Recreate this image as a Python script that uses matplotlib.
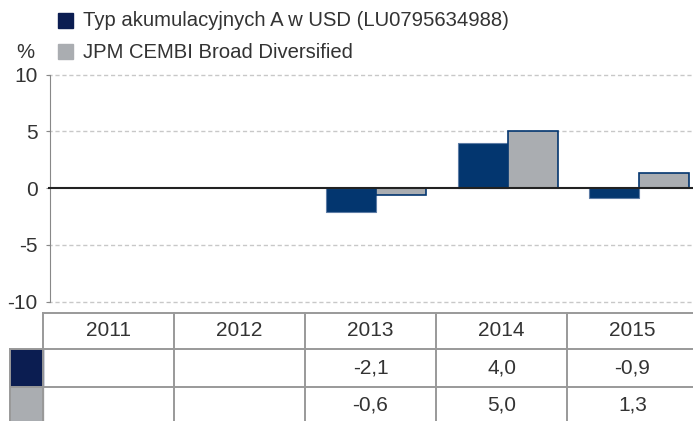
import numpy as np
import matplotlib
matplotlib.use('Agg')
import matplotlib.pyplot as plt
from matplotlib.lines import Line2D
from matplotlib.patches import Rectangle

plt.rcParams['font.family'] = ['Liberation Sans', 'DejaVu Sans']

# Data
years = ['2011', '2012', '2013', '2014', '2015']
fund = [np.nan, np.nan, -2.1, 4.0, -0.9]
bench = [np.nan, np.nan, -0.6, 5.0, 1.3]
fund_name = 'Typ akumulacyjnych A w USD (LU0795634988)'
bench_name = 'JPM CEMBI Broad Diversified'
yticks = [-10, -5, 0, 5, 10]

navy = '#03366f'
navy_dark = '#0b1d51'
grey = '#aaadb1'
text_c = '#333333'
line_c = '#999999'

W, H = 693, 421
fig = plt.figure(figsize=(W / 100, H / 100), dpi=100)


def fx(px):
    return px / W


def fy(py):
    return 1 - py / H


# Main bar axes
y_top, y_bot = 74.7, 301.7
pad = 0.3
ppu = (y_bot - y_top) / 20
ax = fig.add_axes([fx(47.5), fy(y_bot + pad * ppu), fx(693) - fx(47.5),
                   (y_bot - y_top + 2 * pad * ppu) / H])
x = np.arange(len(years))
bw = 0.38
ax.bar(x - bw / 2, fund, bw, color=navy, edgecolor='#5d7ca5', linewidth=0.8, zorder=3)
ax.bar(x + bw / 2, bench, bw, color=grey, edgecolor=navy, linewidth=1.2, zorder=3)
ax.set_xlim(-0.5, (693 - 113) / 131.5)
ax.set_ylim(-10 - pad, 10 + pad)
for v in yticks:
    if v != 0:
        ax.axhline(v, color='#c8c8c8', ls=(0, (3, 2)), lw=1, zorder=1)
ax.axhline(0, color='#222222', lw=1.5, zorder=4)
ax.set_yticks(yticks)
ax.set_yticklabels([str(v) for v in yticks])
ax.set_xticks([])
for s in ['top', 'right', 'bottom']:
    ax.spines[s].set_visible(False)
ax.spines['left'].set_bounds(-10, 10)
ax.spines['left'].set_color('#888888')
ax.spines['left'].set_position(('axes', 0.004))
ax.tick_params(axis='y', length=3, color='#888888', pad=6,
               labelsize=15, labelcolor=text_c)

# Overlay for legend and table (pixel coordinates)
ov = fig.add_axes([0, 0, 1, 1], facecolor='none')
ov.set_xlim(0, W)
ov.set_ylim(H, 0)
ov.axis('off')

# Legend
ov.add_patch(Rectangle((58, 13), 15, 15, color=navy_dark))
ov.add_patch(Rectangle((58, 44), 15, 15, color=grey))
ov.text(83, 21, fund_name, fontsize=14.6, color=text_c, va='center')
ov.text(83, 52, bench_name, fontsize=14.6, color=text_c, va='center')
ov.text(16, 52, '%', fontsize=14.6, color=text_c, va='center')

# Table
cols = [43, 174, 305, 436, 567, 698]
rows = [313, 349, 387, 425]
lw = 1.4
ov.add_line(Line2D([43, W], [313, 313], color=line_c, lw=lw))
for r in rows[1:3]:
    ov.add_line(Line2D([10, W], [r, r], color=line_c, lw=lw))
for c in cols[:-1]:
    ov.add_line(Line2D([c, c], [313, H], color=line_c, lw=lw))
ov.add_line(Line2D([10, 10], [349, H], color=line_c, lw=lw))
ov.add_patch(Rectangle((10, 349), 33, 38, color=navy_dark, zorder=0))
ov.add_patch(Rectangle((10, 387), 33, 40, color=grey, zorder=0))


def fmt(v):
    return '' if np.isnan(v) else f'{v:.1f}'.replace('.', ',')


for i, yr in enumerate(years):
    cx = (cols[i] + cols[i + 1]) / 2
    ov.text(cx, 331, yr, fontsize=15, color=text_c, ha='center', va='center')
    ov.text(cx, 368, fmt(fund[i]), fontsize=15, color=text_c, ha='center', va='center')
    ov.text(cx, 405, fmt(bench[i]), fontsize=15, color=text_c, ha='center', va='center')

fig.savefig('out.png', dpi=100)
